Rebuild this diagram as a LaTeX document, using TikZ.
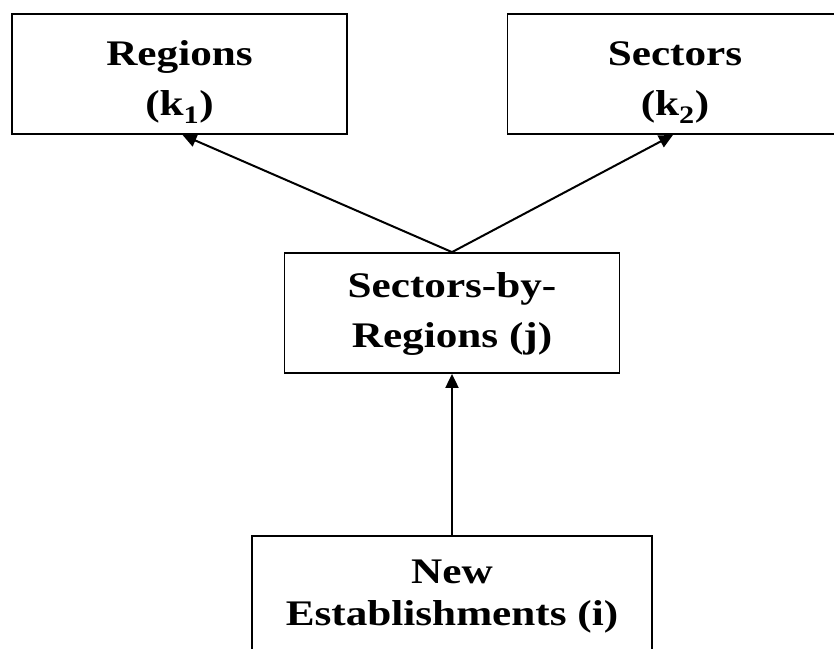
\documentclass[tikz,border=0pt]{standalone}
\usepackage{fontspec}
\setmainfont{Liberation Serif}[FakeStretch=1.2]
\usetikzlibrary{arrows.meta}

\begin{document}
\begin{tikzpicture}[x=1pt,y=-1pt,
  level/.style={draw, line width=1.8pt, align=center, inner sep=0pt,
    minimum width=335pt, minimum height=120pt,
    font=\fontsize{36}{50}\selectfont\bfseries},
  link/.style={line width=2pt, -{Triangle[length=14pt,width=13pt]}}]

  \clip (0,0) rectangle (834,648);

  % the four levels
  \node[level, text height=90pt, text depth=8pt] (regions) at (179.5,74)
    {Regions\\(k\textsubscript{1})};
  \node[level, text height=90pt, text depth=8pt] (sectors) at (675,74)
    {Sectors\\(k\textsubscript{2})};
  \node[level, text height=76pt, text depth=8pt] (secreg) at (452,313)
    {Sectors-by-\\Regions (j)};
  \node[level, minimum width=400pt, text height=66pt, text depth=8pt,
    font=\fontsize{36}{42}\selectfont\bfseries] (newest) at (452,596)
    {New\\Establishments (i)};

  % aggregation
  \draw[link] (secreg.north) -- ([xshift=3pt]regions.south);
  \draw[link] (secreg.north) -- ([xshift=-2pt]sectors.south);
  \draw[link] (newest.north) -- (secreg.south);
\end{tikzpicture}
\end{document}
